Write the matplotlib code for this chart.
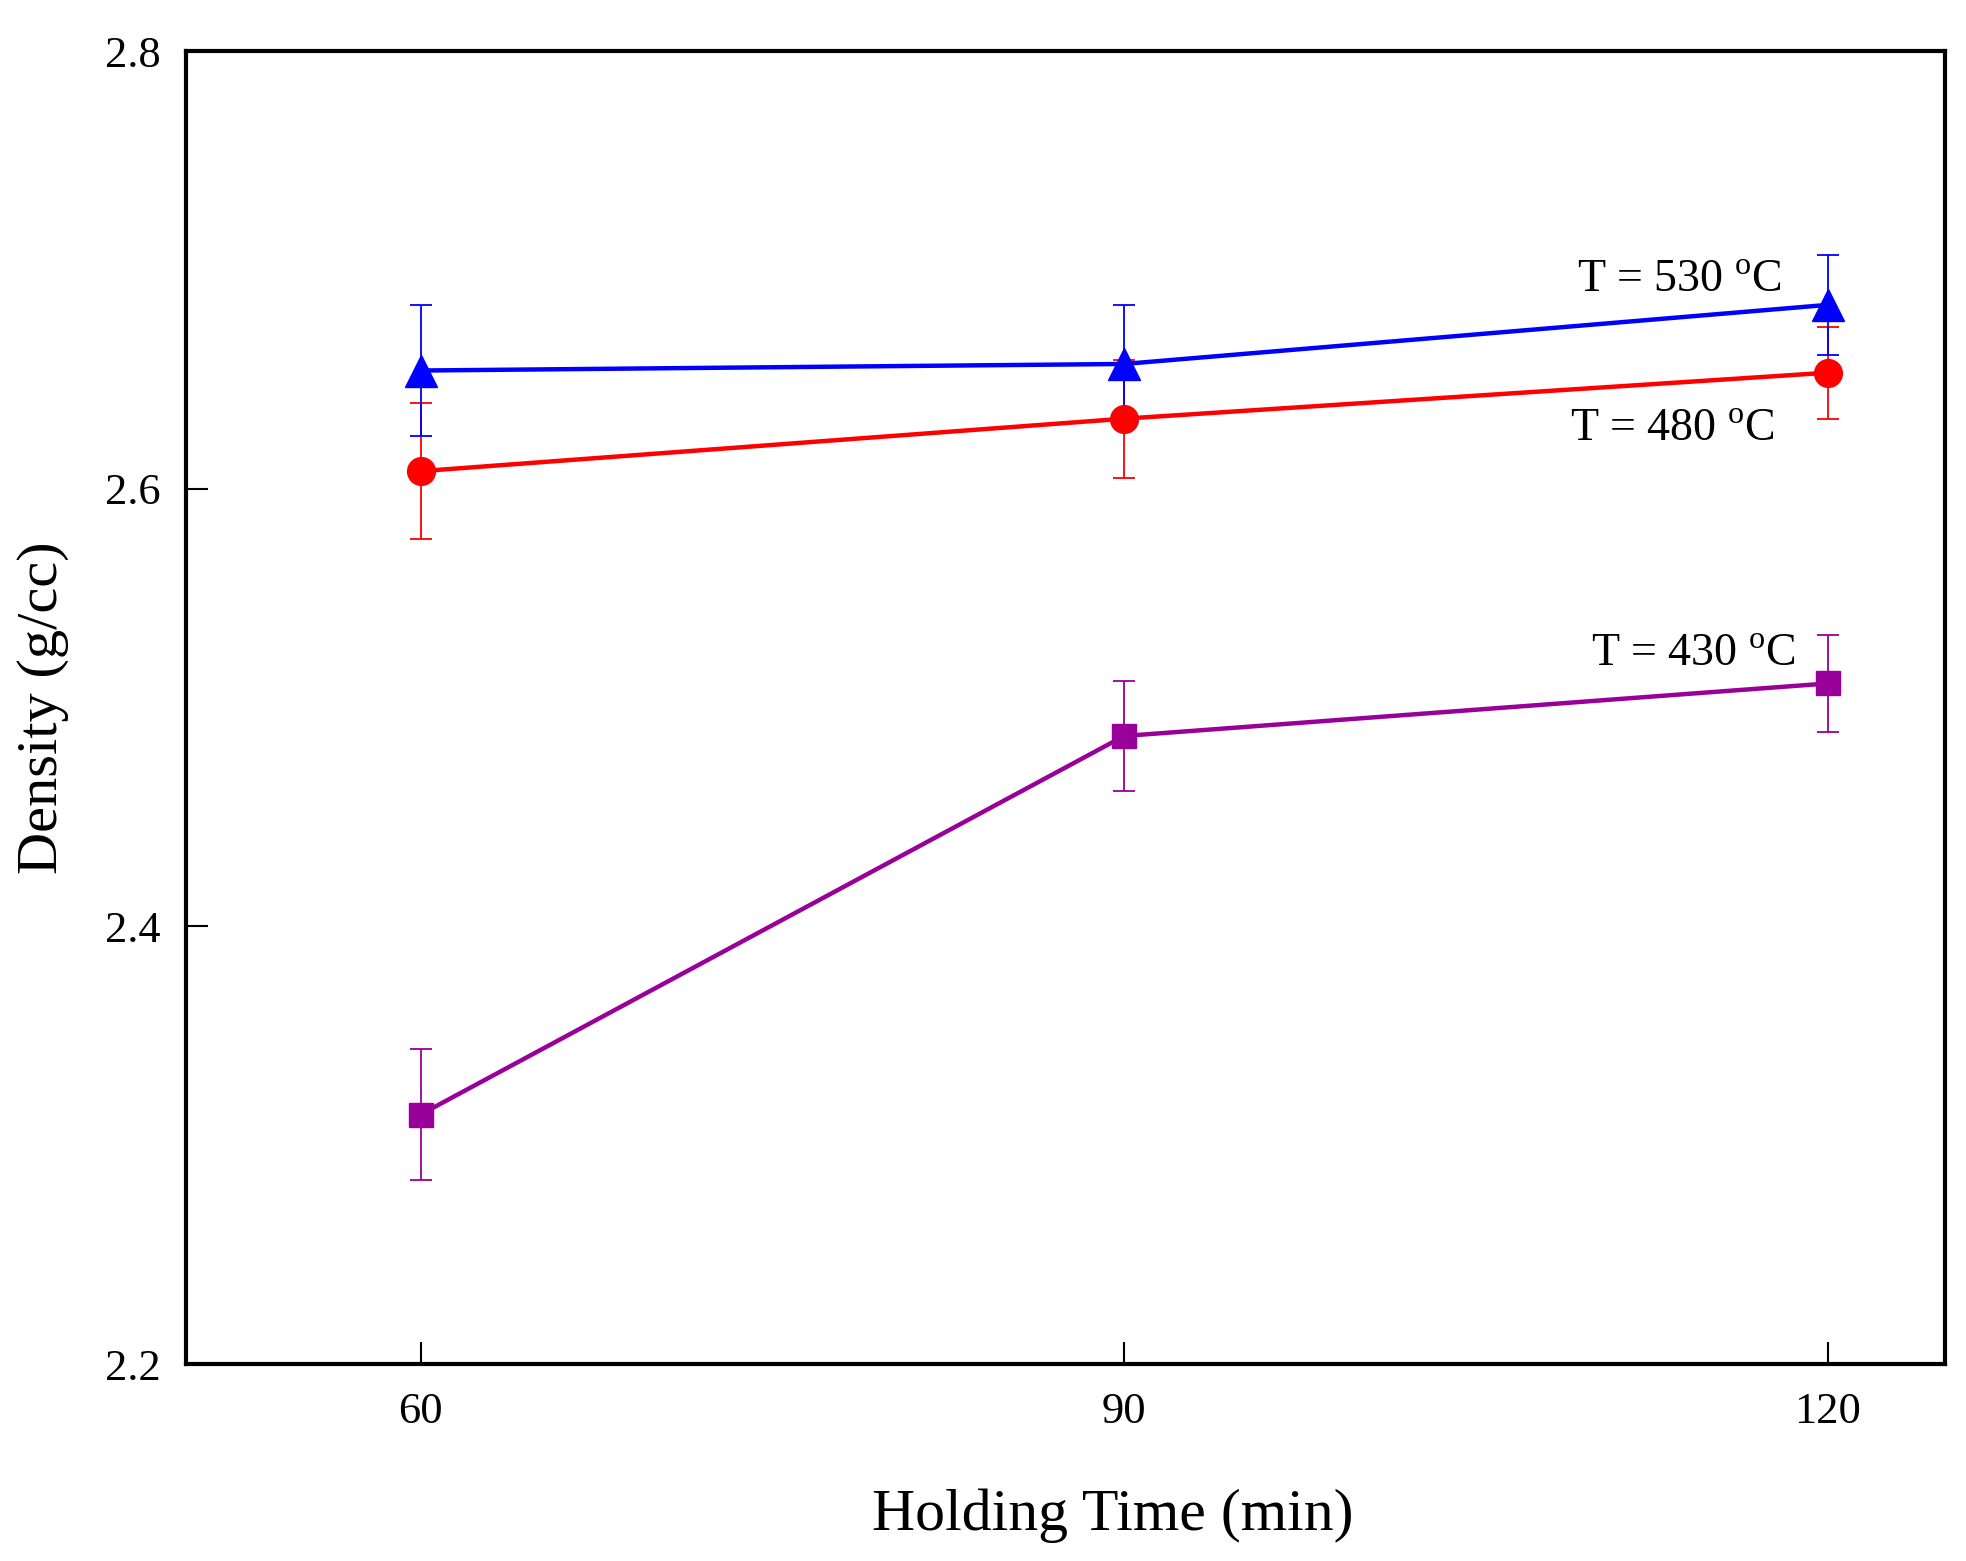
import matplotlib
matplotlib.use('Agg')
import matplotlib.pyplot as plt

# holding time (min)
hold_time = [60, 90, 120]

# density (g/cc) and error bars for each temperature
dens_530 = [2.654, 2.657, 2.684]
err_530 = [0.030, 0.027, 0.023]
dens_480 = [2.608, 2.632, 2.653]
err_480 = [0.031, 0.027, 0.021]
dens_430 = [2.314, 2.487, 2.511]
err_430 = [0.030, 0.025, 0.022]

labels = ['T = 530 $^{\\mathrm{o}}$C', 'T = 480 $^{\\mathrm{o}}$C', 'T = 430 $^{\\mathrm{o}}$C']

plt.rcParams['font.family'] = ['Liberation Serif', 'DejaVu Serif']
plt.rcParams['mathtext.fontset'] = 'custom'
plt.rcParams['mathtext.rm'] = 'Liberation Serif'

fig = plt.figure(figsize=(19.66, 15.61), dpi=100)
ax = fig.add_axes([0.0946, 0.1262, 0.8947, 0.8411])

ax.errorbar(hold_time, dens_430, yerr=err_430, color='#990099', marker='s', markersize=17,
            linewidth=3.2, elinewidth=1.3, capsize=8, capthick=1.3)
ax.errorbar(hold_time, dens_480, yerr=err_480, color='#ff0000', marker='o', markersize=20,
            linewidth=3.2, elinewidth=1.3, capsize=8, capthick=1.3)
ax.errorbar(hold_time, dens_530, yerr=err_530, color='#0000ff', marker='^', markersize=23,
            linewidth=3.2, elinewidth=1.3, capsize=8, capthick=1.3)

ax.text(109.3, 2.690, labels[0], fontsize=33, va='baseline')
ax.text(109.0, 2.622, labels[1], fontsize=33, va='baseline')
ax.text(109.9, 2.519, labels[2], fontsize=33, va='baseline')

ax.set_xlim(50, 125)
ax.set_ylim(2.2, 2.8)
ax.set_xticks(hold_time)
ax.set_yticks([2.2, 2.4, 2.6, 2.8])
ax.set_yticklabels(['2.2', '2.4', '2.6', '2.8'])
ax.tick_params(direction='in', length=16, width=1.5, labelsize=32)
ax.tick_params(axis='y', pad=18)
ax.tick_params(axis='x', pad=20)
for s in ax.spines.values():
    s.set_linewidth(3)

ax.set_xlabel('Holding Time (min)', fontsize=43, labelpad=42)
ax.xaxis.set_label_coords(0.527, -0.095)
ax.set_ylabel('Density (g/cc)', fontsize=42, labelpad=26)

plt.savefig('out.png', dpi=100)
